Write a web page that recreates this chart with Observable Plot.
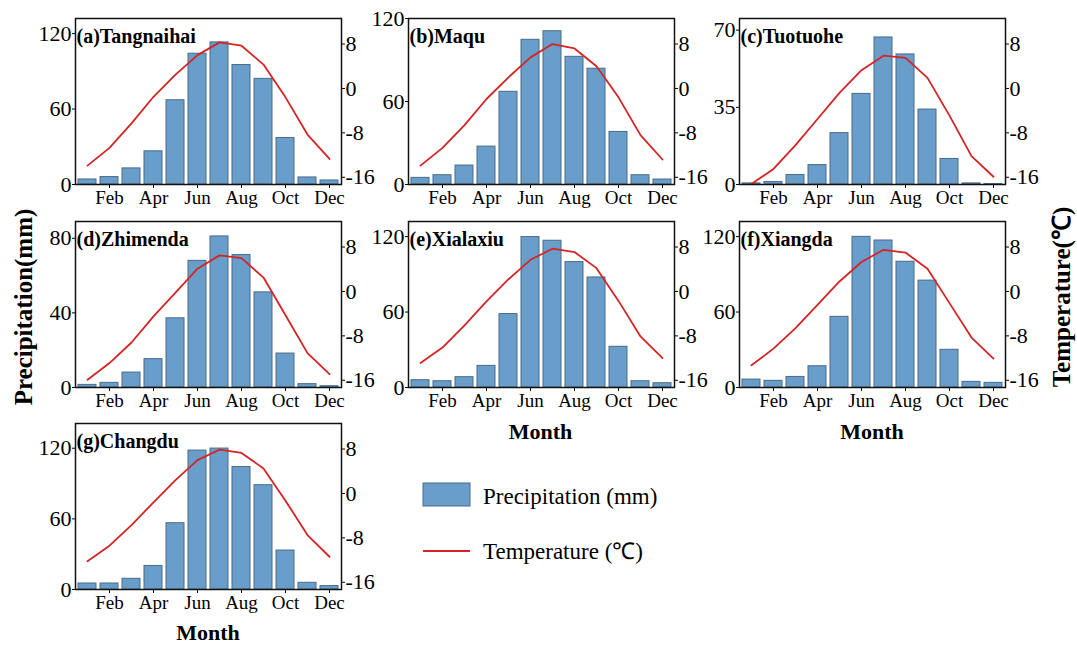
<!DOCTYPE html>
<html>
<head>
<meta charset="utf-8">
<script src="https://cdn.jsdelivr.net/npm/d3@7"></script>
<script src="https://cdn.jsdelivr.net/npm/@observablehq/plot@0.6"></script>
<style>
  html, body { margin: 0; padding: 0; background: #fff; }
  #root { position: relative; width: 1077px; height: 648px; font-family: "Liberation Serif", "Times New Roman", serif; }
  #root svg { position: absolute; max-width: none; overflow: visible; font-family: "Liberation Serif", "Times New Roman", serif !important; }
  #root svg text { font-family: "Liberation Serif", "Times New Roman", serif !important; fill: #000; }
</style>
</head>
<body>
<div id="root"></div>
<script>
const months = ["Jan","Feb","Mar","Apr","May","Jun","Jul","Aug","Sep","Oct","Nov","Dec"];
const monthTicks = ["Feb","Apr","Jun","Aug","Oct","Dec"];
const stationTitles = ["(a)Tangnaihai","(b)Maqu","(c)Tuotuohe","(d)Zhimenda","(e)Xialaxiu","(f)Xiangda","(g)Changdu"];

const precipA = [4.0, 5.9, 12.8, 26.4, 67.0, 104.0, 113.0, 95.0, 84.0, 37.0, 5.6, 3.2];
const tempA   = [-13.9, -10.7, -6.3, -1.5, 2.5, 6.0, 8.3, 7.7, 4.3, -1.6, -8.3, -12.7];
const precipB = [4.8, 6.7, 13.7, 27.4, 67.0, 104.6, 110.8, 92.3, 83.7, 38.0, 6.7, 3.6];
const tempB   = [-13.9, -10.7, -6.6, -1.9, 2.0, 5.6, 8.0, 7.2, 4.0, -1.6, -8.4, -12.8];
const precipC = [0.5, 1.1, 4.3, 8.8, 23.3, 41.1, 66.7, 59.0, 34.0, 11.6, 0.5, 0.2];
const tempC   = [-17.2, -14.5, -10.2, -5.5, -0.8, 3.3, 5.9, 5.5, 1.9, -4.9, -12.2, -15.9];
const precipD = [1.4, 2.5, 8.0, 15.2, 37.1, 67.9, 81.0, 71.0, 51.0, 18.2, 1.8, 0.7];
const tempD   = [-15.9, -12.9, -9.2, -4.5, -0.2, 4.1, 6.5, 6.0, 2.5, -4.3, -11.1, -14.9];
const precipE = [5.8, 5.0, 8.2, 17.2, 58.4, 119.6, 116.7, 99.7, 87.5, 32.4, 5.0, 3.4];
const tempE   = [-12.9, -10.1, -6.1, -1.8, 2.2, 5.7, 7.7, 7.1, 4.2, -1.7, -8.1, -12.0];
const precipF = [6.3, 5.3, 8.4, 16.9, 56.2, 119.8, 116.9, 100.0, 85.0, 30.0, 4.5, 3.7];
const tempF   = [-13.3, -10.3, -6.6, -2.4, 1.8, 5.3, 7.5, 7.0, 4.1, -2.1, -8.3, -12.1];
const precipG = [5.1, 5.1, 9.1, 20.0, 56.3, 118.0, 119.7, 104.0, 88.6, 33.1, 5.7, 2.9];
const tempG   = [-12.2, -9.4, -5.7, -1.6, 2.4, 6.0, 7.9, 7.3, 4.5, -1.3, -7.5, -11.4];

const precipMax   = [132, 120, 75.3, 89, 132, 132, 141];
const precipTicks = [[0,60,120],[0,60,120],[0,35,70],[0,40,80],[0,60,120],[0,60,120],[0,60,120]];
const tempDomain  = [-17.3, 12.6];
const tempTicks   = [-16, -8, 0, 8];

const precipSeries = [precipA, precipB, precipC, precipD, precipE, precipF, precipG];
const tempSeries   = [tempA, tempB, tempC, tempD, tempE, tempF, tempG];

// layout (frame positions)
const frameLefts = [75, 408, 739, 75, 408, 739, 75];
const frameTops  = [18, 18, 18, 221, 221, 221, 423];
const FW = 266, FH = 166;
const ML = 50, MR = 50, MT = 10, MB = 30;

const barFill = "#699ecb", barStroke = "#4a6a8a", lineColor = "#d42424";
const font = "Liberation Serif";
const root = document.getElementById("root");

function xScale() {
  return {type: "band", domain: months, paddingInner: 0.17, paddingOuter: 0.085};
}

precipSeries.forEach((p, i) => {
  const rows = months.map((m, k) => ({month: m, precip: p[k], temp: tempSeries[i][k]}));
  const common = {
    width: FW + ML + MR, height: FH + MT + MB,
    marginLeft: ML, marginRight: MR, marginTop: MT, marginBottom: MB,
    style: {background: "transparent", fontFamily: font, color: "#000", overflow: "visible"}
  };
  const bars = Plot.plot({
    ...common,
    x: xScale(),
    y: {domain: [0, precipMax[i]]},
    marks: [
      Plot.barY(rows, {x: "month", y: "precip", fill: barFill, stroke: barStroke, strokeWidth: 1}),
      Plot.axisX({ticks: monthTicks, tickSize: 4, tickPadding: 2, fontSize: 19, label: null}),
      Plot.axisY({anchor: "left", ticks: precipTicks[i], tickSize: 3, tickPadding: 1, fontSize: 22, label: null, tickFormat: d => String(d)}),
      Plot.text([stationTitles[i]], {frameAnchor: "top-left", text: d => d, lineAnchor: "top", textAnchor: "start", dx: 1, dy: 10, fontSize: 20, fontWeight: "bold"})
    ]
  });
  const temps = Plot.plot({
    ...common,
    x: xScale(),
    y: {domain: tempDomain},
    marks: [
      Plot.line(rows, {x: "month", y: "temp", stroke: lineColor, strokeWidth: 1.8}),
      Plot.axisX({ticks: [], tickSize: 0, label: null}),
      Plot.axisY({anchor: "right", ticks: tempTicks, tickSize: 3, tickPadding: 1, fontSize: 22, label: null, tickFormat: d => String(d)}),
      Plot.frame({stroke: "#111", strokeWidth: 1.5})
    ]
  });
  [bars, temps].forEach(svg => {
    svg.style.left = (frameLefts[i] - ML) + "px";
    svg.style.top = (frameTops[i] - MT) + "px";
    root.appendChild(svg);
  });
});

// global labels
const ns = "http://www.w3.org/2000/svg";
const overlay = document.createElementNS(ns, "svg");
overlay.setAttribute("width", 1077);
overlay.setAttribute("height", 648);
overlay.style.left = "0px"; overlay.style.top = "0px";
overlay.style.pointerEvents = "none";
root.appendChild(overlay);
function addText(txt, x, y, size, weight, rotate) {
  const t = document.createElementNS(ns, "text");
  t.textContent = txt;
  t.setAttribute("x", x); t.setAttribute("y", y);
  t.setAttribute("font-family", font);
  t.setAttribute("font-size", size);
  t.setAttribute("font-weight", weight);
  t.setAttribute("text-anchor", "middle");
  t.setAttribute("dominant-baseline", "central");
  if (rotate) t.setAttribute("transform", `rotate(${rotate},${x},${y})`);
  overlay.appendChild(t);
  return t;
}
addText("Precipitation(mm)", 23, 307, 25, "bold", -90);
addText("Temperature(℃)", 1061, 297, 25, "bold", -90);
addText("Month", 540.5, 431, 22, "bold");
addText("Month", 872, 431, 22, "bold");
addText("Month", 208, 632, 22, "bold");

// legend
const lr = document.createElementNS(ns, "rect");
lr.setAttribute("x", 423); lr.setAttribute("y", 483); lr.setAttribute("width", 47); lr.setAttribute("height", 23);
lr.setAttribute("fill", barFill); lr.setAttribute("stroke", barStroke); lr.setAttribute("stroke-width", 1);
overlay.appendChild(lr);
const ll = document.createElementNS(ns, "line");
ll.setAttribute("x1", 423); ll.setAttribute("x2", 470); ll.setAttribute("y1", 551); ll.setAttribute("y2", 551);
ll.setAttribute("stroke", lineColor); ll.setAttribute("stroke-width", 1.8);
overlay.appendChild(ll);
const t1 = addText("Precipitation (mm)", 483, 496, 23, "normal"); t1.setAttribute("text-anchor", "start");
const t2 = addText("Temperature (℃)", 483, 551, 23, "normal"); t2.setAttribute("text-anchor", "start");
</script>
</body>
</html>
